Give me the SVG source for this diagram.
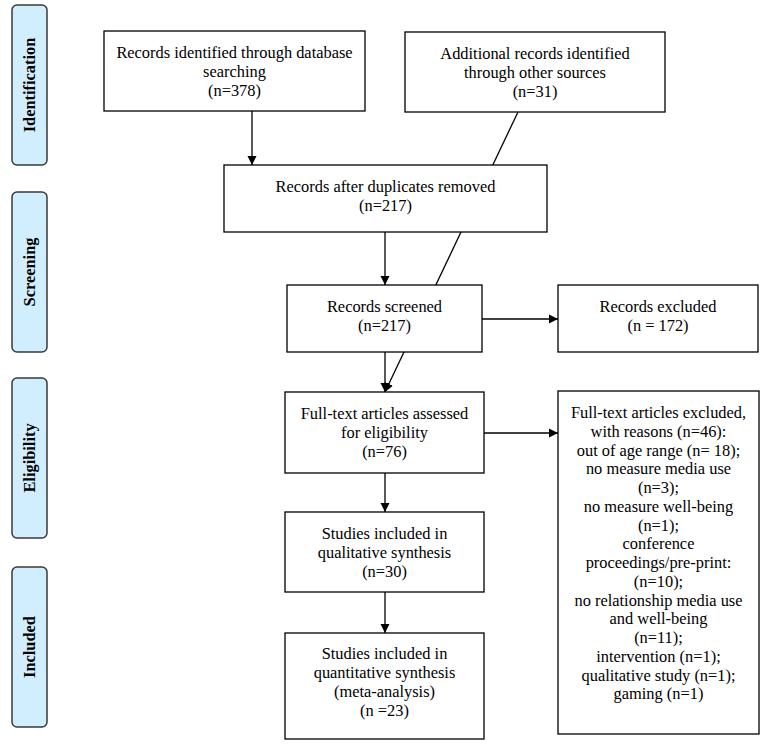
<svg xmlns="http://www.w3.org/2000/svg" width="765" height="750" viewBox="0 0 765 750">
<defs>
<style>
.box{fill:#fff;stroke:#000;stroke-width:1.3}
.side{fill:#d1eeff;stroke:#3a3a3a;stroke-width:1.5}
.t{font-family:"Liberation Serif","Times New Roman",serif;font-size:16.4px;fill:#000;text-anchor:middle}
.s{font-family:"Liberation Serif","Times New Roman",serif;font-size:16.4px;font-weight:bold;fill:#000;text-anchor:middle}
.c{stroke:#000;stroke-width:1.3;fill:none}
</style>
<marker id="ah" markerWidth="10" markerHeight="10" refX="9" refY="5" orient="auto" markerUnits="userSpaceOnUse">
<path d="M0,0.5 L9,5 L0,9.5 Z" fill="#000"/>
</marker>
</defs>
<rect width="765" height="750" fill="#fff"/>
<g id="stage-identification"><rect class="side" x="12" y="5" width="35" height="160" rx="5"/><text class="s" transform="translate(35,85) rotate(-90)">Identification</text></g>
<g id="stage-screening"><rect class="side" x="12" y="192" width="35" height="160" rx="5"/><text class="s" transform="translate(35,272) rotate(-90)">Screening</text></g>
<g id="stage-eligibility"><rect class="side" x="12" y="378" width="35" height="160" rx="5"/><text class="s" transform="translate(35,458) rotate(-90)">Eligibility</text></g>
<g id="stage-included"><rect class="side" x="12" y="567" width="35" height="160" rx="5"/><text class="s" transform="translate(35,647) rotate(-90)">Included</text></g>

<g id="connectors">
<line class="c" x1="252" y1="111" x2="252" y2="165" marker-end="url(#ah)"/>
<polyline class="c" points="518,112 385,392" marker-end="url(#ah)"/>
<line class="c" x1="385" y1="232" x2="385" y2="285" marker-end="url(#ah)"/>
<line class="c" x1="385" y1="352" x2="385" y2="392" marker-end="url(#ah)"/>
<line class="c" x1="482" y1="319" x2="558" y2="319" marker-end="url(#ah)"/>
<line class="c" x1="484" y1="433" x2="558" y2="433" marker-end="url(#ah)"/>
<line class="c" x1="385" y1="473" x2="385" y2="512" marker-end="url(#ah)"/>
<line class="c" x1="385" y1="592" x2="385" y2="633" marker-end="url(#ah)"/>
</g>

<g id="n1"><rect class="box" x="104" y="31" width="261" height="80"/>
<text class="t" x="234.5" y="58">Records identified through database</text>
<text class="t" x="234.5" y="77">searching</text>
<text class="t" x="234.5" y="96">(n=378)</text></g>

<g id="n2"><rect class="box" x="405" y="32" width="260" height="80"/>
<text class="t" x="535" y="59">Additional records identified</text>
<text class="t" x="535" y="78">through other sources</text>
<text class="t" x="535" y="97">(n=31)</text></g>

<g id="n3"><rect class="box" x="224" y="165" width="323" height="67"/>
<text class="t" x="385.5" y="192">Records after duplicates removed</text>
<text class="t" x="385.5" y="211">(n=217)</text></g>

<g id="n4"><rect class="box" x="287" y="285" width="195" height="67"/>
<text class="t" x="384.5" y="312">Records screened</text>
<text class="t" x="384.5" y="331">(n=217)</text></g>

<g id="n5"><rect class="box" x="558" y="285" width="200" height="67"/>
<text class="t" x="658" y="312">Records excluded</text>
<text class="t" x="658" y="331">(n = 172)</text></g>

<g id="n6"><rect class="box" x="285" y="392" width="199" height="81"/>
<text class="t" x="384.5" y="419">Full-text articles assessed</text>
<text class="t" x="384.5" y="438">for eligibility</text>
<text class="t" x="384.5" y="457">(n=76)</text></g>

<g id="n7"><rect class="box" x="558" y="391" width="201" height="343"/>
<text class="t" x="658.5" y="418">Full-text articles excluded,</text>
<text class="t" x="658.5" y="437">with reasons (n=46):</text>
<text class="t" x="658.5" y="456">out of age range (n= 18);</text>
<text class="t" x="658.5" y="474">no measure media use</text>
<text class="t" x="658.5" y="493">(n=3);</text>
<text class="t" x="658.5" y="512">no measure well-being</text>
<text class="t" x="658.5" y="531">(n=1);</text>
<text class="t" x="658.5" y="549">conference</text>
<text class="t" x="658.5" y="568">proceedings/pre-print:</text>
<text class="t" x="658.5" y="587">(n=10);</text>
<text class="t" x="658.5" y="606">no relationship media use</text>
<text class="t" x="658.5" y="624">and well-being</text>
<text class="t" x="658.5" y="643">(n=11);</text>
<text class="t" x="658.5" y="662">intervention (n=1);</text>
<text class="t" x="658.5" y="681">qualitative study (n=1);</text>
<text class="t" x="658.5" y="699">gaming (n=1)</text></g>

<g id="n8"><rect class="box" x="285" y="512" width="199" height="80"/>
<text class="t" x="384.5" y="539">Studies included in</text>
<text class="t" x="384.5" y="558">qualitative synthesis</text>
<text class="t" x="384.5" y="577">(n=30)</text></g>

<g id="n9"><rect class="box" x="285" y="633" width="199" height="106"/>
<text class="t" x="384.5" y="659">Studies included in</text>
<text class="t" x="384.5" y="678">quantitative synthesis</text>
<text class="t" x="384.5" y="697">(meta-analysis)</text>
<text class="t" x="384.5" y="716">(n =23)</text></g>
</svg>
